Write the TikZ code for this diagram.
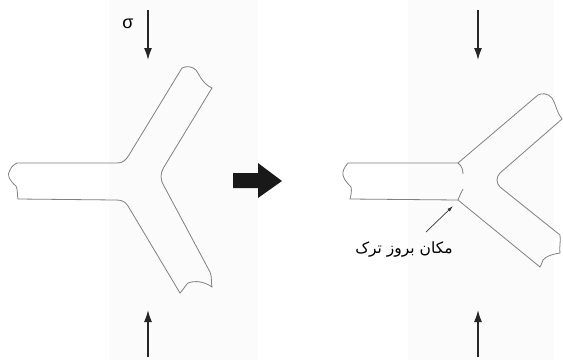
\documentclass[tikz,border=0pt]{standalone}
\usepackage{fontspec}
\setmainfont{Liberation Sans}
\newfontfamily\arabicfont[Script=Arabic]{DejaVu Sans}
\TeXXeTstate=1
\usetikzlibrary{arrows.meta}

\begin{document}
\begin{tikzpicture}[x=1pt, y=-1pt,
    grain/.style={draw=black!50, line width=0.8pt},
    load/.style={-{Latex[length=12pt,width=8pt]}, line width=1.5pt, draw=black!85},
    pointer/.style={-{Latex[length=6pt,width=3.5pt]}, line width=0.7pt, draw=black!80}]
    \useasboundingbox (0,0) rectangle (563,360);

    % Light bands behind the junctions
    \fill[black!1.5] (109,0) rectangle (258,360);
    \fill[black!1.5] (408,0) rectangle (554,360);

    % Grain boundary junction before loading
    \draw[grain] (17,163) -- (117,163) .. controls (123,163) and (126,160) .. (129,155)
        -- (182,68) .. controls (186,66) and (192,66) .. (196,70)
        .. controls (200,76) and (203,84) .. (212,88)
        -- (164,167) .. controls (160,173) and (160,180) .. (164,186)
        -- (210,272) .. controls (212,276) and (211,282) .. (212,287)
        .. controls (205,282) and (196,280) .. (188,283)
        .. controls (185,286) and (183,290) .. (180,293)
        -- (128,206) .. controls (125,201) and (121,200) .. (116,200)
        -- (18,199) .. controls (17,195) and (18,190) .. (16,186)
        .. controls (10,181) and (6,175) .. (10,170)
        .. controls (12,166) and (14,164) .. (17,163) -- cycle;

    % Junction after sliding
    \draw[grain] (348,163) -- (458,163) -- (538,95)
        .. controls (541,93) and (548,93) .. (552,98)
        .. controls (556,104) and (556,111) .. (562,119)
        -- (500,173) .. controls (496,177) and (496,183) .. (500,187)
        -- (560,235) .. controls (561,241) and (559,248) .. (560,253)
        .. controls (553,254) and (546,256) .. (543,260)
        .. controls (542,263) and (541,265) .. (540,267)
        -- (458,200) -- (350,199)
        .. controls (351,195) and (352,191) .. (351,187)
        .. controls (346,182) and (342,177) .. (343,172)
        .. controls (344,168) and (346,165) .. (348,163) -- cycle;

    % Cracks opening at the triple point
    \draw[grain] (458,163) .. controls (462,166) and (463,170) .. (463,174);
    \draw[grain] (463,189) .. controls (461,193) and (459,197) .. (458,200);

    % Applied stress
    \coordinate (inTL) at (148,10);
    \coordinate (outTL) at (148,60);
    \coordinate (inBL) at (148,357);
    \coordinate (outBL) at (148,310);
    \coordinate (inTR) at (478,10);
    \coordinate (outTR) at (478,60);
    \coordinate (inBR) at (478,357);
    \coordinate (outBR) at (478,310);
    \node[font=\fontsize{18}{20}\selectfont] (sigma) at (128,24) {σ};
    \draw[load] (inTL) -- (outTL);
    \draw[load] (inBL) -- (outBL);
    \draw[load] (inTR) -- (outTR);
    \draw[load] (inBR) -- (outBR);

    % Step arrow
    \fill[black!90] (233,173) -- (258,173) -- (258,163) -- (282,181)
        -- (258,198) -- (258,188) -- (233,188) -- cycle;

    % Crack label
    \node[font=\arabicfont\fontsize{15.5}{18}\selectfont] (crack) at (404,249)
        {\beginR مکان بروز ترک\endR};
    \coordinate (crackfoot) at (426,232);
    \coordinate (crackpos) at (453,206);
    \draw[pointer] (crackfoot) -- (crackpos);

    \end{tikzpicture}
\end{document}
